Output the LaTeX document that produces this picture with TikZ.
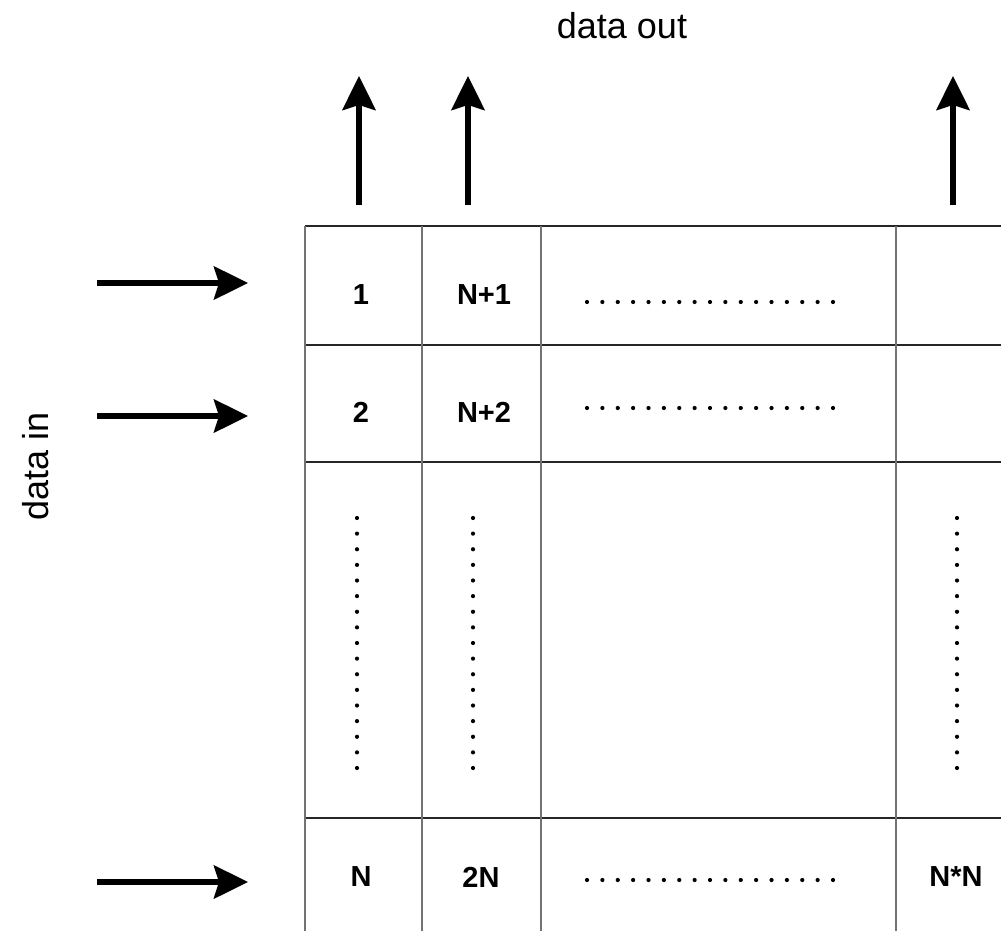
\documentclass[tikz,border=0pt]{standalone}
\usepackage{fontspec}
\setmainfont{Liberation Sans}
\usetikzlibrary{arrows.meta}
\begin{document}
\begin{tikzpicture}[x=1pt,y=-1pt,
  hline/.style={line width=2pt,black!85},
  vline/.style={line width=2pt,black!55},
  bigarrow/.style={line width=6pt,-{Stealth[length=34pt,width=33pt,inset=5pt]}},
  celltext/.style={font=\bfseries\fontsize{29}{33}\selectfont,inner sep=0pt},
  titletext/.style={font=\fontsize{36}{40}\selectfont,inner sep=0pt,anchor=base},
  hdots/.style={line width=4.2pt,line cap=round,dash pattern=on 0pt off 15.375pt},
  vdots/.style={line width=4.2pt,line cap=round,dash pattern=on 0pt off 15.625pt}]
\useasboundingbox (0,0) rectangle (1001,931);
\fill[white] (0,0) rectangle (1001,931);
% grid
\foreach \y in {226,345,462,818} \draw[hline] (305,\y) -- (1001,\y);
\foreach \x in {305,422,541,896} \draw[vline] (\x,226) -- (\x,931);
% titles
\node[titletext] (out) at (622,39) {data out};
\node[titletext,rotate=90] (in) at (48,466) {data in};
% input arrows
\coordinate (a1s) at (97,283); \coordinate (a1e) at (248,283);
\coordinate (a2s) at (97,416); \coordinate (a2e) at (248,416);
\coordinate (a3s) at (97,882); \coordinate (a3e) at (248,882);
\draw[bigarrow] (a1s) -- (a1e);
\draw[bigarrow] (a2s) -- (a2e);
\draw[bigarrow] (a3s) -- (a3e);
% output arrows
\coordinate (o1s) at (359,205); \coordinate (o1e) at (359,76);
\coordinate (o2s) at (468,205); \coordinate (o2e) at (468,76);
\coordinate (o3s) at (953,205); \coordinate (o3e) at (953,76);
\draw[bigarrow] (o1s) -- (o1e);
\draw[bigarrow] (o2s) -- (o2e);
\draw[bigarrow] (o3s) -- (o3e);
% cell labels
\node[celltext] (c1) at (361,295) {1};
\node[celltext] (c2) at (484,295) {N+1};
\node[celltext] (c3) at (361,412) {2};
\node[celltext] (c4) at (484,412) {N+2};
\node[celltext] (c5) at (361,877) {N};
\node[celltext] (c6) at (481,877) {2N};
\node[celltext] (c7) at (956,877) {N*N};
% dotted lines
\coordinate (h1s) at (587,302); \coordinate (h1e) at (833,302);
\coordinate (h2s) at (587,408); \coordinate (h2e) at (833,408);
\coordinate (h3s) at (587,880); \coordinate (h3e) at (833,880);
\draw[hdots] (h1s) -- (h1e);
\draw[hdots] (h2s) -- (h2e);
\draw[hdots] (h3s) -- (h3e);
\coordinate (v1s) at (357,518); \coordinate (v1e) at (357,768);
\coordinate (v2s) at (473,518); \coordinate (v2e) at (473,768);
\coordinate (v3s) at (957,518); \coordinate (v3e) at (957,768);
\draw[vdots] (v1s) -- (v1e);
\draw[vdots] (v2s) -- (v2e);
\draw[vdots] (v3s) -- (v3e);
\end{tikzpicture}
\end{document}
